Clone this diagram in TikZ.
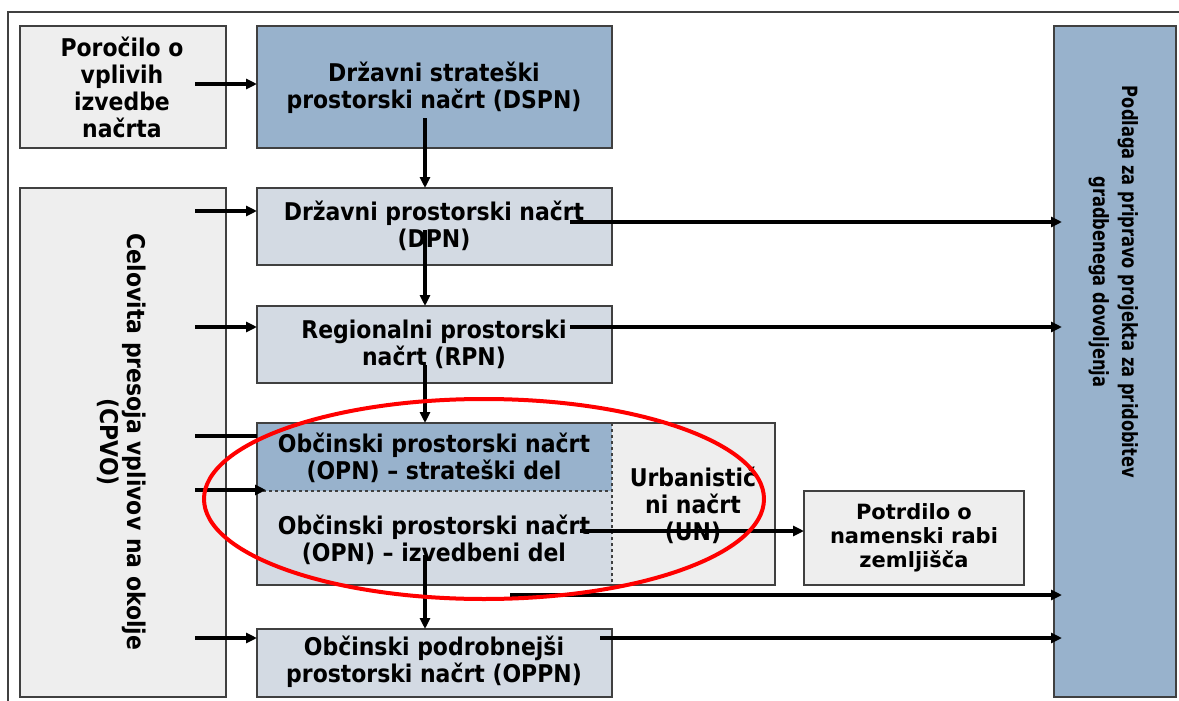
\documentclass[tikz,border=0pt]{standalone}
\usepackage{fontspec}
\usetikzlibrary{arrows.meta}
\newfontfamily\cf{DejaVu Sans Condensed}[BoldFont={DejaVu Sans Condensed Bold}]
\newfontfamily\pf{DejaVu Sans Condensed}[BoldFont={DejaVu Sans Condensed Bold}, BoldFeatures={FakeStretch=0.86}]
\newfontfamily\vf{DejaVu Sans}
\definecolor{darkb}{HTML}{98B2CC}
\definecolor{lightb}{HTML}{D3DAE3}
\definecolor{lgray}{HTML}{EEEEEE}
\definecolor{bord}{HTML}{404040}
\tikzset{
  box/.style={draw=bord, line width=1.6pt},
  txt/.style={align=center, font=\cf\bfseries\fontsize{24.4}{27}\selectfont, inner sep=0pt},
  vtxt/.style={align=center, font=\vf\bfseries\fontsize{21}{24}\selectfont, inner sep=0pt},
  arr/.style={line width=3.2pt, -{Triangle[length=11pt,width=10pt]}},
  ln/.style={line width=3.2pt},
}
\begin{document}
\begin{tikzpicture}[x=1pt,y=-1pt]
\useasboundingbox (0,0) rectangle (1179,701);
\fill[white] (0,0) rectangle (1179,701);
% outer frame
\draw[line width=1.3pt, bord] (1179,12) -- (8,12) -- (8,701);
% boxes
\path[box, fill=lgray] (20,26) rectangle (226,148);
\node[txt] (por) at (122,87) {Poročilo o\\vplivih\\izvedbe\\načrta};
\path[box, fill=darkb] (257,26) rectangle (612,148);
\node[txt] (dspn) at (434,88) {Državni strateški\\prostorski načrt (DSPN)};
\path[box, fill=lgray] (20,188) rectangle (226,697);
\node[txt, rotate=-90] (cpvo) at (122,442) {Celovita presoja vplivov na okolje\\(CPVO)};
\path[box, fill=lightb] (257,188) rectangle (612,265);
\node[txt] (dpn) at (434,226) {Državni prostorski načrt\\(DPN)};
\path[box, fill=lightb] (257,306) rectangle (612,383);
\node[txt] (rpn) at (434,344) {Regionalni prostorski\\načrt (RPN)};
% OPN group
\fill[lgray] (257,423) rectangle (775,585);
\fill[darkb] (257,423) rectangle (612,491);
\fill[lightb] (257,491) rectangle (612,585);
\draw[box] (257,423) rectangle (775,585);
\draw[line width=1.2pt, bord, dashed] (257,491) -- (612,491);
\draw[line width=1.2pt, bord, dashed] (612,423) -- (612,585);
\node[txt] (opns) at (434,458) {Občinski prostorski načrt\\(OPN) – strateški del};
\node[txt] (opni) at (434,540) {Občinski prostorski načrt\\(OPN) – izvedbeni del};
\node[txt] (un) at (693,505) {Urbanistič\\ni načrt\\(UN)};
\path[box, fill=lgray] (804,491) rectangle (1024,585);
\node[vtxt] (potr) at (914,538) {Potrdilo o\\namenski rabi\\zemljišča};
\path[box, fill=lightb] (257,629) rectangle (612,697);
\node[txt] (oppn) at (434,662) {Občinski podrobnejši\\prostorski načrt (OPPN)};
\path[box, fill=darkb] (1054,26) rectangle (1176,697);
\node[txt, rotate=-90, font=\pf\bfseries\fontsize{21}{29}\selectfont] (podl) at (1114,282) {Podlaga za pripravo projekta za pridobitev\\gradbenega dovoljenja};
% coordinates
\coordinate (a1) at (195,84); \coordinate (a1e) at (257,84);
\coordinate (c1) at (195,211); \coordinate (c1e) at (257,211);
\coordinate (c2) at (195,327); \coordinate (c2e) at (257,327);
\coordinate (c3) at (195,436); \coordinate (c3e) at (257,436);
\coordinate (c4) at (195,490); \coordinate (c4e) at (266,490);
\coordinate (c5) at (195,638); \coordinate (c5e) at (257,638);
\coordinate (v1) at (425,118); \coordinate (v1e) at (425,188);
\coordinate (v2) at (425,230); \coordinate (v2e) at (425,306);
\coordinate (v3) at (425,365); \coordinate (v3e) at (425,423);
\coordinate (v4) at (425,555); \coordinate (v4e) at (425,629);
\coordinate (r1) at (570,222); \coordinate (r1e) at (1062,222);
\coordinate (r2) at (570,327); \coordinate (r2e) at (1062,327);
\coordinate (r3) at (580,531); \coordinate (r3e) at (804,531);
\coordinate (r4) at (510,595); \coordinate (r4e) at (1062,595);
\coordinate (r5) at (600,638); \coordinate (r5e) at (1062,638);
\draw[arr] (a1) -- (a1e);
\draw[arr] (c1) -- (c1e);
\draw[arr] (c2) -- (c2e);
\draw[ln] (c3) -- (c3e);
\draw[arr] (c4) -- (c4e);
\draw[arr] (c5) -- (c5e);
\draw[arr] (v1) -- (v1e);
\draw[arr] (v2) -- (v2e);
\draw[arr] (v3) -- (v3e);
\draw[arr] (v4) -- (v4e);
\draw[arr] (r1) -- (r1e);
\draw[arr] (r2) -- (r2e);
\draw[arr] (r3) -- (r3e);
\draw[arr] (r4) -- (r4e);
\draw[arr] (r5) -- (r5e);
% red ellipse
\draw[red, line width=4pt] (484,499) ellipse [x radius=280, y radius=100];
\end{tikzpicture}
\end{document}
